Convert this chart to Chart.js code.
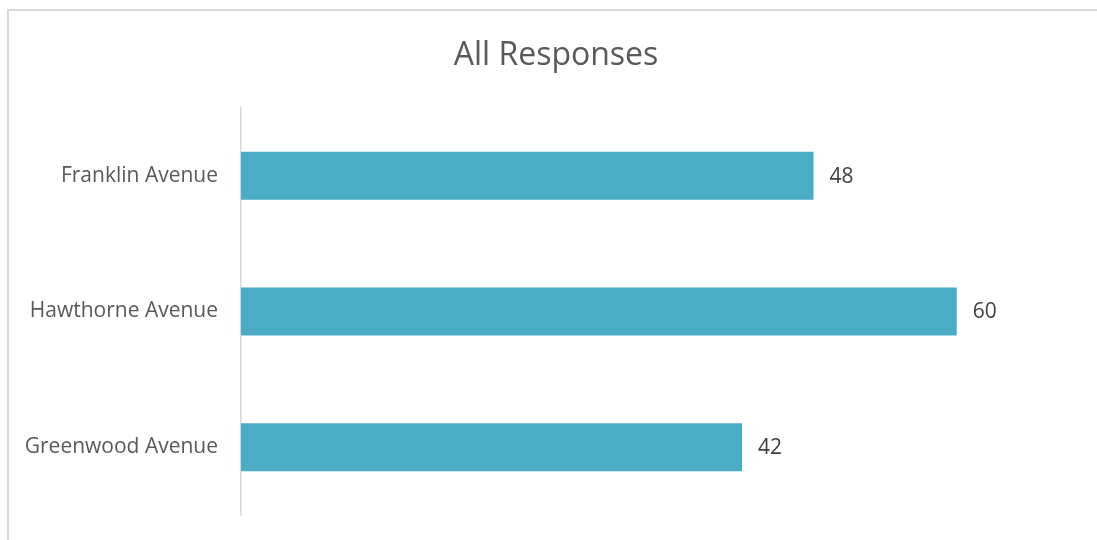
<!DOCTYPE html>
<html>
<head>
<meta charset="utf-8">
<script src="https://cdn.jsdelivr.net/npm/chart.js@4.4.0/dist/chart.umd.min.js"></script>
<style>
  html, body { margin: 0; padding: 0; background: #fff; overflow: hidden; }
  #wrap { position: relative; width: 1097px; height: 540px; }
  #frame { position: absolute; left: 7px; top: 9px; width: 1200px; height: 600px;
           border-left: 2px solid #d9d9d9; border-top: 2px solid #d9d9d9; pointer-events: none; }
  canvas { display: block; }
</style>
</head>
<body>
<div id="wrap">
  <canvas id="myChart" width="1097" height="540"></canvas>
  <div id="frame"></div>
</div>
<script>
const categories = ['Franklin Avenue', 'Hawthorne Avenue', 'Greenwood Avenue'];
const responses = [48, 60, 42];
const xMax = 70;

// value labels at the end of each bar
const valueLabels = {
    id: 'valueLabels',
    afterLayout(chart) {
        // let the category labels run left of the padded area without clipping
        chart.scales.y.left = 0;
    },
    afterDatasetsDraw(chart) {
        const ctx = chart.ctx;
        const meta = chart.getDatasetMeta(0);
        ctx.save();
        ctx.font = '21px "Open Sans"';
        ctx.fillStyle = '#404040';
        ctx.textBaseline = 'middle';
        ctx.textAlign = 'left';
        meta.data.forEach((bar, i) => {
            ctx.fillText(String(responses[i]), bar.x + 16, bar.y + 1);
        });
        ctx.restore();
    }
};

document.addEventListener("DOMContentLoaded", function(){
    const ctx = document.getElementById('myChart').getContext('2d');
    new Chart(ctx, {
        type: 'bar',
        data: {
            labels: categories,
            datasets: [{
                label: 'All Responses',
                backgroundColor: '#4bacc6',
                borderWidth: 0,
                barPercentage: 0.354,
                categoryPercentage: 1,
                data: responses
            }]
        },
        options: {
            indexAxis: 'y',
            responsive: false,
            animation: false,
            layout: { padding: { top: 0, right: 21, bottom: 25, left: 36 } },
            plugins: {
                legend: { display: false },
                tooltip: { enabled: false },
                title: {
                    display: true,
                    text: 'All Responses',
                    color: '#595959',
                    font: { family: 'Open Sans', size: 32, weight: 'normal' },
                    padding: { top: 37, bottom: 32.6 }
                }
            },
            scales: {
                x: {
                    display: false,
                    min: 0,
                    max: xMax
                },
                y: {
                    afterFit: (scale) => {
                        scale.width = 205;
                        scale.paddingTop = 0;
                        scale.paddingBottom = 0;
                    },
                    grid: { display: false, drawTicks: false },
                    border: { display: true, color: '#d9d9d9', width: 1.5 },
                    ticks: {
                        padding: 23,
                        color: '#595959',
                        font: { family: 'Open Sans', size: 21 }
                    }
                }
            }
        },
        plugins: [valueLabels]
    });
});
</script>
</body>
</html>
